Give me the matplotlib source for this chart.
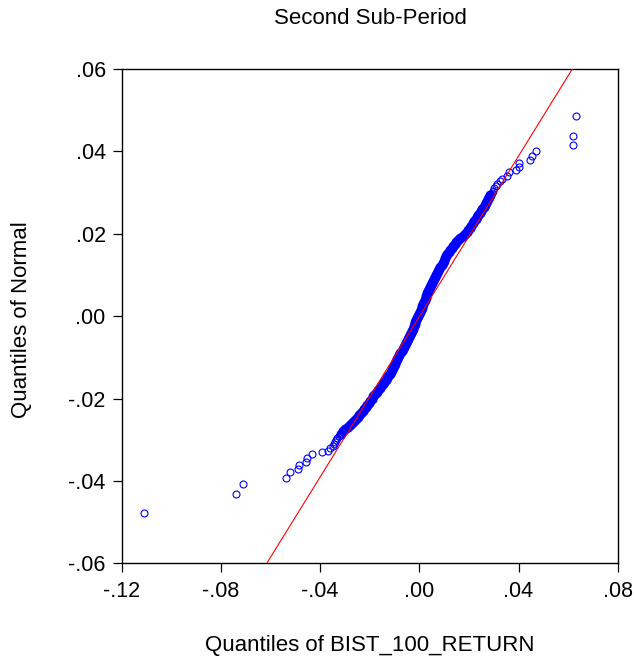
import matplotlib
matplotlib.use("Agg")
from matplotlib import pyplot as plt
from matplotlib.ticker import FuncFormatter
import numpy as np

plt.rcParams['font.family'] = ['Liberation Sans', 'DejaVu Sans']

# lower tail (empirical quantile, normal quantile)
low_x = [-0.1111, -0.0739, -0.0710, -0.0539, -0.0521, -0.0489, -0.0485,
         -0.0455, -0.0451, -0.0434, -0.0392, -0.0368, -0.0360]
low_y = [-0.0477, -0.0431, -0.0407, -0.0392, -0.0379, -0.0370, -0.0361,
         -0.0355, -0.0345, -0.0335, -0.0331, -0.0327, -0.0321]

# dense body read along the band
body_y = [-0.0315, -0.0310, -0.0305, -0.0300, -0.0295, -0.0290, -0.0285, -0.0280, -0.0275,
          -0.0270, -0.0265, -0.0260, -0.0255, -0.0250, -0.0245, -0.0240, -0.0235, -0.0230,
          -0.0225, -0.0220, -0.0215, -0.0210, -0.0205, -0.0200, -0.0195, -0.0190, -0.0185,
          -0.0180, -0.0175, -0.0170, -0.0165, -0.0160, -0.0155, -0.0150, -0.0145, -0.0140,
          -0.0135, -0.0130, -0.0125, -0.0120, -0.0115, -0.0110, -0.0105, -0.0100, -0.0095,
          -0.0090, -0.0085, -0.0080, -0.0075, -0.0070, -0.0065, -0.0060, -0.0055, -0.0050,
          -0.0045, -0.0040, -0.0035, -0.0030, -0.0025, -0.0020, -0.0015, -0.0010, -0.0005,
          0.0000, 0.0005, 0.0010, 0.0015, 0.0020, 0.0025, 0.0030, 0.0035, 0.0040, 0.0045,
          0.0050, 0.0055, 0.0060, 0.0065, 0.0070, 0.0075, 0.0080, 0.0085, 0.0090, 0.0095,
          0.0100, 0.0105, 0.0110, 0.0115, 0.0120, 0.0125, 0.0130, 0.0135, 0.0140, 0.0145,
          0.0150, 0.0155, 0.0160, 0.0165, 0.0170, 0.0175, 0.0180, 0.0185, 0.0190, 0.0195,
          0.0200, 0.0205, 0.0210, 0.0215, 0.0220, 0.0225, 0.0230, 0.0235, 0.0240, 0.0245,
          0.0250, 0.0255, 0.0260, 0.0265, 0.0270, 0.0275, 0.0280, 0.0285, 0.0290, 0.0295,
          0.0300, 0.0305, 0.0310, 0.0315, 0.0320]
body_x = [-0.0350, -0.0344, -0.0340, -0.0336, -0.0331, -0.0322, -0.0314, -0.0306, -0.0298,
          -0.0289, -0.0280, -0.0272, -0.0264, -0.0256, -0.0249, -0.0242, -0.0235, -0.0228,
          -0.0221, -0.0215, -0.0209, -0.0203, -0.0197, -0.0191, -0.0185, -0.0179, -0.0172,
          -0.0166, -0.0159, -0.0153, -0.0147, -0.0141, -0.0136, -0.0130, -0.0125, -0.0120,
          -0.0114, -0.0109, -0.0105, -0.0101, -0.0097, -0.0093, -0.0089, -0.0085, -0.0081,
          -0.0076, -0.0071, -0.0067, -0.0062, -0.0057, -0.0053, -0.0050, -0.0046, -0.0042,
          -0.0038, -0.0034, -0.0031, -0.0027, -0.0023, -0.0019, -0.0016, -0.0012, -0.0009,
          -0.0005, -0.0002, 0.0002, 0.0005, 0.0009, 0.0012, 0.0016, 0.0019, 0.0022, 0.0026,
          0.0029, 0.0032, 0.0036, 0.0039, 0.0043, 0.0047, 0.0051, 0.0055, 0.0059, 0.0064,
          0.0068, 0.0072, 0.0076, 0.0081, 0.0085, 0.0090, 0.0095, 0.0099, 0.0104, 0.0108,
          0.0113, 0.0119, 0.0124, 0.0130, 0.0136, 0.0142, 0.0149, 0.0158, 0.0166, 0.0175,
          0.0184, 0.0191, 0.0197, 0.0203, 0.0209, 0.0215, 0.0221, 0.0227, 0.0232, 0.0237,
          0.0243, 0.0248, 0.0254, 0.0259, 0.0263, 0.0268, 0.0273, 0.0278, 0.0283, 0.0287,
          0.0292, 0.0297, 0.0303, 0.0308, 0.0314]

# upper tail
high_x = [0.0327, 0.0335, 0.0354, 0.0361, 0.0389, 0.0400, 0.0404, 0.0446,
          0.0455, 0.0472, 0.0619, 0.0619, 0.0632]
high_y = [0.0327, 0.0334, 0.0340, 0.0351, 0.0355, 0.0363, 0.0371, 0.0378,
          0.0389, 0.0401, 0.0416, 0.0438, 0.0486]

# reference line y = a + b*x
line_a = -0.0001
line_b = 0.974

x_ticks = [-0.12, -0.08, -0.04, 0.00, 0.04, 0.08]
y_ticks = [-0.06, -0.04, -0.02, 0.00, 0.02, 0.04, 0.06]

qx = np.array(low_x + body_x + high_x)
qy = np.array(low_y + body_y + high_y)

fig = plt.figure(figsize=(6.34, 6.61), dpi=100)
ax = fig.add_axes([121.7/634, 1-563.3/661, 496/634, 494.3/661])

blue = '#0000ff'
ax.plot(qx, qy, linestyle='None', marker='o', markersize=5, markerfacecolor='none',
        markeredgecolor=blue, markeredgewidth=0.8, zorder=2)
# overlapping circles in the crowded middle merge into a solid band
ax.plot(body_x[6:-5], body_y[6:-5], linestyle='None', marker='o', markersize=5,
        markerfacecolor='none', markeredgecolor=blue, markeredgewidth=2.2, zorder=2)

ylo, yhi = y_ticks[0], y_ticks[-1]
lx = np.array([(ylo - line_a)/line_b, (yhi - line_a)/line_b])
ax.plot(lx, line_a + line_b*lx, color='red', linewidth=0.8, zorder=3)

ax.set_xlim(x_ticks[0], x_ticks[-1])
ax.set_ylim(ylo, yhi)
ax.set_xticks(x_ticks)
ax.set_yticks(y_ticks)

def fmt(v, pos):
    s = "%.2f" % v
    if s.startswith("-0"):
        s = "-" + s[2:]
    elif s.startswith("0"):
        s = s[1:]
    return s

ax.xaxis.set_major_formatter(FuncFormatter(fmt))
ax.yaxis.set_major_formatter(FuncFormatter(fmt))
ax.tick_params(direction='out', length=6.5, width=0.9, labelsize=15.5, colors='black')
ax.tick_params(axis='x', pad=6)
ax.tick_params(axis='y', pad=5)
for sp in ax.spines.values():
    sp.set_linewidth(1.0)
    sp.set_color('black')

fig.text(370/634, 1-19/661, "Second Sub-Period", ha='center', va='center', fontsize=16)
fig.text(370/634, 1-645/661, "Quantiles of BIST_100_RETURN", ha='center', va='center', fontsize=16)
fig.text(22/634, 1-320/661, "Quantiles of Normal", ha='center', va='center', rotation=90, fontsize=16)

fig.savefig("out.png", dpi=100)
